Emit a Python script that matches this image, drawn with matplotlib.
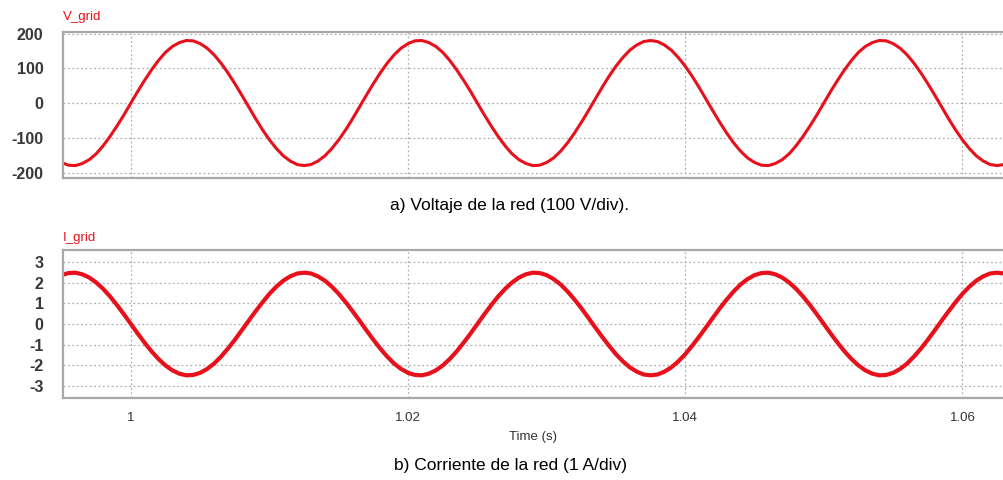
import numpy as np
import matplotlib
matplotlib.use('Agg')
import matplotlib.pyplot as plt

plt.rcParams['font.family'] = ['Liberation Sans', 'DejaVu Sans']
plt.rcParams['axes.unicode_minus'] = False

# time samples (s), one every 0.5 ms
t_start     = 0.995
t_step      = 0.0005
# V_grid (V)
v_grid = [-171, -179, -180, -174, -163, -146, -123, -96, -66, -34,
          0, 34, 66, 96, 123, 146, 163, 174, 180, 179,
          171, 158, 139, 115, 87, 56, 23, -11, -45, -77,
          -106, -131, -152, -167, -177, -180, -177, -167, -152, -131,
          -106, -77, -45, -11, 23, 56, 87, 115, 139, 158,
          171, 179, 180, 174, 163, 146, 123, 96, 66, 34,
          0, -34, -66, -96, -123, -146, -163, -174, -180, -179,
          -171, -158, -139, -115, -87, -56, -23, 11, 45, 77,
          106, 131, 152, 167, 177, 180, 177, 167, 152, 131,
          106, 77, 45, 11, -23, -56, -87, -115, -139, -158,
          -171, -179, -180, -174, -163, -146, -123, -96, -66, -34,
          0, 34, 66, 96, 123, 146, 163, 174, 180, 179,
          171, 158, 139, 115, 87, 56, 23, -11, -45, -77,
          -106, -131, -152, -167, -177, -180, -177]
# I_grid (A)
i_grid = [2.38, 2.48, 2.50, 2.42, 2.26, 2.02, 1.71, 1.34, 0.92, 0.47,
          0.00, -0.47, -0.92, -1.34, -1.71, -2.02, -2.26, -2.42, -2.50, -2.48,
          -2.38, -2.19, -1.93, -1.59, -1.20, -0.77, -0.31, 0.16, 0.62, 1.06,
          1.47, 1.82, 2.11, 2.32, 2.46, 2.50, 2.46, 2.32, 2.11, 1.82,
          1.47, 1.06, 0.62, 0.16, -0.31, -0.77, -1.20, -1.59, -1.93, -2.19,
          -2.38, -2.48, -2.50, -2.42, -2.26, -2.02, -1.71, -1.34, -0.92, -0.47,
          0.00, 0.47, 0.92, 1.34, 1.71, 2.02, 2.26, 2.42, 2.50, 2.48,
          2.38, 2.19, 1.93, 1.59, 1.20, 0.77, 0.31, -0.16, -0.62, -1.06,
          -1.47, -1.82, -2.11, -2.32, -2.46, -2.50, -2.46, -2.32, -2.11, -1.82,
          -1.47, -1.06, -0.62, -0.16, 0.31, 0.77, 1.20, 1.59, 1.93, 2.19,
          2.38, 2.48, 2.50, 2.42, 2.26, 2.02, 1.71, 1.34, 0.92, 0.47,
          0.00, -0.47, -0.92, -1.34, -1.71, -2.02, -2.26, -2.42, -2.50, -2.48,
          -2.38, -2.19, -1.93, -1.59, -1.20, -0.77, -0.31, 0.16, 0.62, 1.06,
          1.47, 1.82, 2.11, 2.32, 2.46, 2.50, 2.46]
time = t_start + t_step*np.arange(len(v_grid))

x_ticks = [1.0, 1.02, 1.04, 1.06]
x_labels = ['1', '1.02', '1.04', '1.06']
v_ticks = [-200, -100, 0, 100, 200]
i_ticks = [-3, -2, -1, 0, 1, 2, 3]

red = '#e8101a'
frame = '#a8a8a8'

fig = plt.figure(figsize=(10.04, 4.8), dpi=100)
ax1 = fig.add_axes([0.0627, 0.629, 0.9373, 0.304])
ax2 = fig.add_axes([0.0627, 0.171, 0.9373, 0.308])

def style(ax):
    for s in ax.spines.values():
        s.set_color(frame)
        s.set_linewidth(1.6)
    ax.spines['right'].set_visible(False)
    ax.grid(True, color='#b0b0b0', linestyle=(0, (1.5, 2)), linewidth=0.9)
    ax.tick_params(length=0, colors='#333333', pad=14)
    ax.set_xlim(0.9951, 1.0630)
    ax.set_xticks(x_ticks)
    for lb in ax.get_yticklabels():
        lb.set_fontsize(11.5)
        lb.set_fontweight('bold')
        lb.set_color('#383838')

ax1.plot(time, v_grid, color=red, lw=2.2)
ax1.set_ylim(-216, 204)
ax1.set_yticks(v_ticks)
ax1.set_xticklabels([])
style(ax1)
ax1.text(0.0, 1.06, 'V_grid', transform=ax1.transAxes, color=red, fontsize=9.5, va='bottom')

ax2.plot(time, i_grid, color=red, lw=3.0)
ax2.set_ylim(-3.6, 3.6)
ax2.set_yticks(i_ticks)
style(ax2)
ax2.set_xticklabels(x_labels, fontsize=9.5, color='#333333')
ax2.tick_params(axis='x', pad=10)
ax2.text(0.0, 1.04, 'I_grid', transform=ax2.transAxes, color=red, fontsize=9.5, va='bottom')
ax2.set_xlabel('Time (s)', fontsize=9.5, color='#333333', labelpad=5)

fig.text(0.508, 0.572, 'a) Voltaje de la red (100 V/div).', ha='center', va='center', fontsize=12.5)
fig.text(0.508, 0.030, 'b) Corriente de la red (1 A/div)', ha='center', va='center', fontsize=12.5)

fig.savefig('out.png', dpi=100)
